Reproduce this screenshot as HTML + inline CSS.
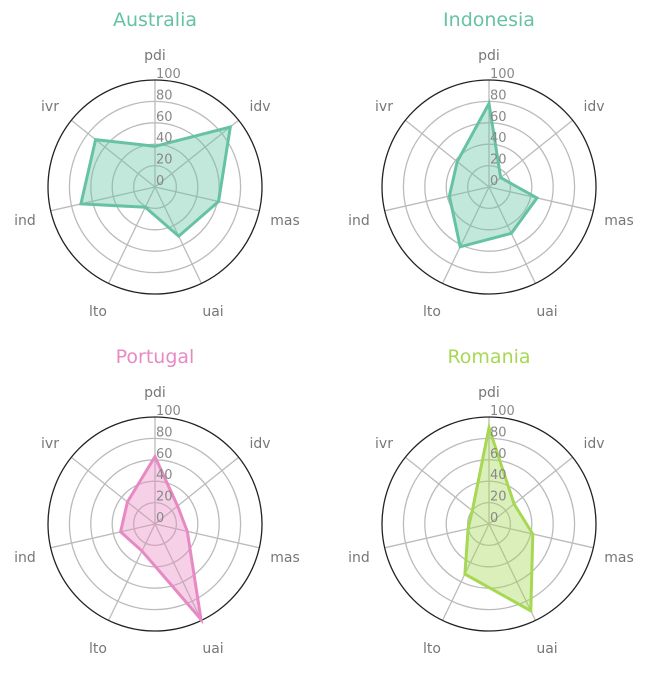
<!DOCTYPE html><html><head><style>body{margin:0;background:#fff}svg text{font-family:"DejaVu Sans","Liberation Sans",sans-serif}</style></head><body>
<svg id="s" width="664" height="682" xmlns="http://www.w3.org/2000/svg">
<g font-size="19" text-anchor="middle">
<text x="155" y="26" fill="#66c2a5">Australia</text>
<text x="489" y="26" fill="#66c2a5">Indonesia</text>
<text x="155" y="363" fill="#e78ac3">Portugal</text>
<text x="489" y="363" fill="#a6d854">Romania</text>
</g>
</svg>
<script>
var s=document.getElementById('s'),NS='http://www.w3.org/2000/svg';
function el(t,a,txt){var e=document.createElementNS(NS,t);for(var k in a)e.setAttribute(k,a[k]);if(txt!=null)e.textContent=txt;s.appendChild(e);return e;}
var names=['pdi','idv','mas','uai','lto','ind','ivr'];
var loff=[[0,-132],[105,-81],[130,33],[58,124],[-57,124],[-130,33],[-105,-81]];
var charts=[[155,187,'#66c2a5',[38,90,61,51,21,71,71]],[489,187,'#66c2a5',[78,14,46,48,62,38,38]],[155,524,'#e78ac3',[63,27,31,99,28,33,33]],[489,524,'#a6d854',[90,30,42,90,52,20,20]]];
var R=107;
charts.forEach(function(c){var cx=c[0],cy=c[1];
for(var g=1;g<=4;g++)el('circle',{cx:cx,cy:cy,r:R*g/5,fill:'none',stroke:'#bbb','stroke-width':1.3});
for(var i=0;i<7;i++){var a=i*2*Math.PI/7;el('line',{x1:cx,y1:cy,x2:cx+R*Math.sin(a),y2:cy-R*Math.cos(a),stroke:'#bbb','stroke-width':1.3});}
el('circle',{cx:cx,cy:cy,r:R,fill:'none',stroke:'#222','stroke-width':1.3});
var p=[];for(var i=0;i<7;i++){var a=i*2*Math.PI/7,r=R*c[3][i]/100;p.push((cx+r*Math.sin(a)).toFixed(1)+','+(cy-r*Math.cos(a)).toFixed(1));}
el('polygon',{points:p.join(' '),fill:c[2],'fill-opacity':0.4,stroke:c[2],'stroke-width':3,'stroke-linejoin':'miter'});
for(var g=0;g<=5;g++)el('text',{x:cx+1,y:cy-R*g/5-2,fill:'#888','font-size':13},String(g*20));
for(var i=0;i<7;i++)el('text',{x:cx+loff[i][0],y:cy+loff[i][1]+5,fill:'#777','font-size':14,'text-anchor':'middle'},names[i]);
});
</script>
</body></html>
